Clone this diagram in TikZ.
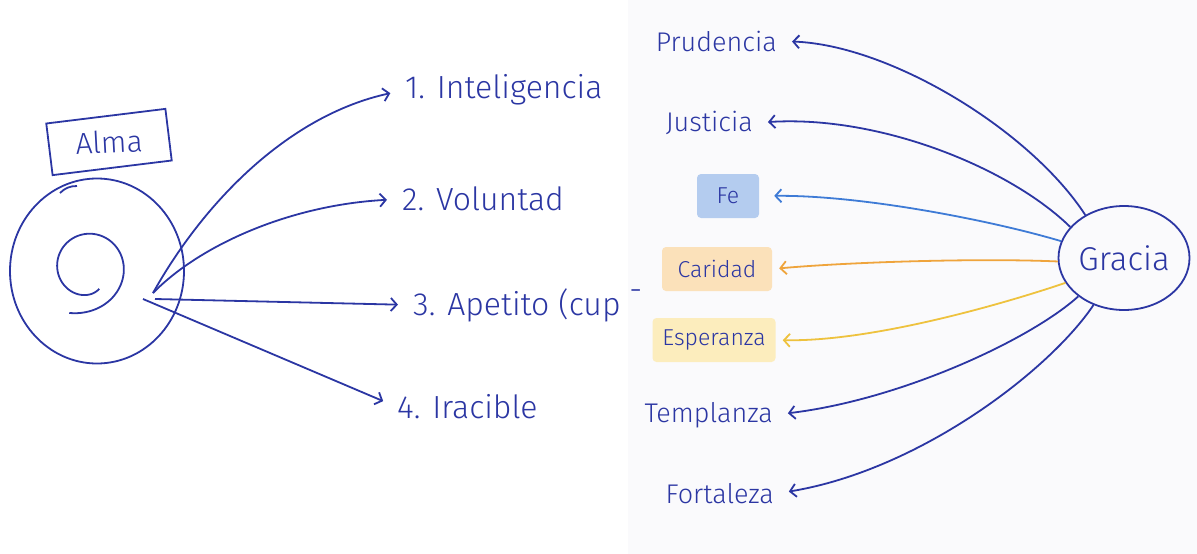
\documentclass[tikz,border=0pt]{standalone}
\usepackage{fontspec}
\setmainfont{Fira Sans Light}
\usepackage{xcolor}
\usetikzlibrary{arrows.meta,shapes.geometric}
\definecolor{ink}{HTML}{2B36A3}
\definecolor{faith}{HTML}{3E7BD6}
\definecolor{charity}{HTML}{EFA43C}
\definecolor{hope}{HTML}{EEC23E}
\definecolor{faithbg}{HTML}{B4CCEF}
\definecolor{charitybg}{HTML}{FBE1BA}
\definecolor{hopebg}{HTML}{FCEDBD}
\definecolor{panel}{HTML}{FAFAFC}
\tikzset{
  ln/.style={draw=ink, line width=1.8pt},
  arr/.style={ln, -{Straight Barb[length=6pt,width=13pt]}, shorten >=15pt},
  big/.style={text=ink, font=\fontsize{32}{38}\selectfont, inner sep=0pt},
  virt/.style={text=ink, font=\fontsize{27}{32}\selectfont, inner sep=0pt},
  tag/.style={text=ink, font=\fontsize{23}{28}\selectfont, rounded corners=4pt, minimum height=44pt}
}

\begin{document}
\begin{tikzpicture}[x=1pt,y=-1pt]
\useasboundingbox (0,0) rectangle (1197,554);
\fill[panel] (628,0) rectangle (1197,554);

% alma
\node[ellipse, ln, minimum width=174pt, minimum height=185pt] (soul) at (97,271) {};
\node[ln, rotate=7, minimum width=120pt, minimum height=52pt] (alma) at (109,142) {};
\node[big, font=\fontsize{30}{36}\selectfont, rotate=3] (almatxt) at (alma.center) {Alma};
\draw[ln] (60,193) .. controls (65,188) and (70,186) .. (77,186);
\draw[ln] plot[domain=0:1, samples=90, smooth]
  ({89+(32+19*\x^6-7*(1-\x)^12)*cos(66+407*\x)}, {266+(32+19*\x^6-7*(1-\x)^12)*sin(66+407*\x)});

% facultades
\coordinate (fork) at (153,293);
\coordinate (fork3) at (155,299);
\coordinate (fork4) at (143,299);
\node[big, anchor=west] (intel) at (405,90) {1. Inteligencia};
\node[big, anchor=west] (volun) at (402,199) {2. Voluntad};
\node[big, anchor=west] (apet) at (413,305) {3. Apetito (cup \raisebox{0.9ex}{-}};
\node[big, anchor=west] (irac) at (397,407) {4. Iracible};
\draw[arr] (fork) .. controls (205,200) and (290,115) .. (intel.west);
\draw[arr] (fork) .. controls (200,245) and (290,205) .. (volun.west);
\draw[arr] (fork3) -- (apet.west);
\draw[arr] (fork4) -- (irac.west);

% virtudes
\node[ellipse, ln, big, font=\fontsize{33}{40}\selectfont, minimum width=131pt, minimum height=104pt] (gracia) at (1124,258) {Gracia};
\node[virt, anchor=east] (prud) at (777,41) {Prudencia};
\node[virt, anchor=east] (just) at (753,123) {Justicia};
\node[tag, fill=faithbg, minimum width=62pt] (fe) at (728,196) {Fe};
\node[tag, fill=charitybg, minimum width=110pt] (carid) at (717,269) {Caridad};
\node[tag, fill=hopebg, minimum width=123pt] (esper) at (714,340) {Esperanza};
\node[virt, anchor=east] (templ) at (773,415) {Templanza};
\node[virt, anchor=east] (fort) at (774,494) {Fortaleza};
\draw[arr] (gracia.132) .. controls (1030,130) and (890,45) .. (prud.east);
\draw[arr] (gracia.150) .. controls (1010,168) and (880,115) .. (just.east);
\draw[arr, draw=faith] (gracia.165) .. controls (990,220) and (860,195) .. (fe.east);
\draw[arr, draw=charity, shorten >=7pt] (gracia.183) .. controls (980,258) and (850,262) .. (carid.east);
\draw[arr, draw=hope, shorten >=7pt] (gracia.203) .. controls (1000,305) and (870,342) .. (esper.east);
\draw[arr] (gracia.220) .. controls (1030,340) and (900,400) .. (templ.east);
\draw[arr] (gracia.237) .. controls (1050,370) and (920,470) .. (fort.east);
\end{tikzpicture}
\end{document}
